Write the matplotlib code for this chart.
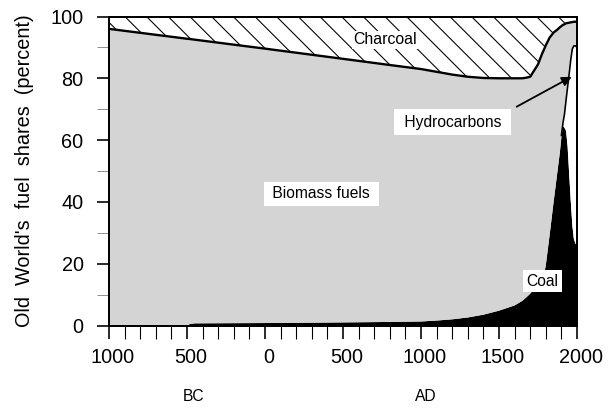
import numpy as np
import matplotlib
matplotlib.use("Agg")
import matplotlib.pyplot as plt
from matplotlib.transforms import ScaledTranslation, blended_transform_factory

plt.rcParams['font.family'] = ['Liberation Sans', 'DejaVu Sans']
plt.rcParams['hatch.color'] = 'black'
plt.rcParams['hatch.linewidth'] = 0.6

# ---- data (percent shares of Old World's fuel supply) ----
years = [-1000, -500, -480, -450, 0, 500, 800, 1000, 1100, 1200, 1300, 1400, 1500, 1600,
         1650, 1675, 1700, 1725, 1750, 1775, 1790, 1800, 1825, 1850, 1875, 1890, 1900,
         1910, 1920, 1930, 1940, 1950, 1960, 1970, 1980, 1990, 2000]
coal = [0, 0, 0.5, 0.7, 0.8, 1.0, 1.15, 1.3, 1.6, 2.0, 2.6, 3.5, 4.8, 6.5,
        8.0, 9.1, 10.3, 11.8, 13.3, 15.0, 16.8, 19.5, 29.5, 40, 50, 56, 61,
        64.5, 64, 63, 57.8, 49, 40.3, 32.5, 28, 26.5, 26]
hydrocarbons = [0, 0, 0, 0, 0, 0, 0, 0, 0, 0, 0, 0, 0, 0,
                0, 0, 0, 0, 0, 0, 0, 0, 0, 0, 0, 0, 0.5,
                1.0, 4.5, 10, 19.5, 32.5, 45.7, 57, 62.5, 64, 64]
biomass = [96, 92.8, 92.2, 91.8, 88.8, 85.3, 83.15, 81.7, 80.5, 79.2, 77.9, 76.6, 75.2, 73.5,
           72, 71.1, 70.2, 70.7, 71.2, 72.8, 72.7, 71.2, 63.7, 54.8, 45.8, 40.5, 35.4,
           31.8, 29, 24.8, 20.6, 16.5, 12.1, 8.7, 7.8, 7.8, 8.3]
charcoal = [4, 7.2, 7.3, 7.5, 10.4, 13.7, 15.7, 17, 17.9, 18.8, 19.5, 19.9, 20, 20,
            20, 19.8, 19.5, 17.5, 15.5, 12.2, 10.5, 9.3, 6.8, 5.2, 4.2, 3.5, 3.1,
            2.7, 2.5, 2.2, 2.1, 2.0, 1.9, 1.8, 1.7, 1.7, 1.7]

xticks = [-1000, -500, 0, 500, 1000, 1500, 2000]
xticklabels = ["1000", "500", "0", "500", "1000", "1500", "2000"]
yticks = [0, 20, 40, 60, 80, 100]

DPI = 130
fig = plt.figure(figsize=(608 / DPI, 409 / DPI), dpi=DPI)
ax = fig.add_axes([109 / 608, 1 - 325.5 / 409, 468 / 608, 309 / 409])

gray = '#d4d4d4'
polys = ax.stackplot(years, coal, hydrocarbons, biomass, charcoal,
                     colors=['black', 'white', gray, 'white'], linewidth=0)
polys[3].set_hatch('\\\\')
polys[3].set_edgecolor('black')
polys[3].set_linewidth(0)

yr = np.array(years)
stack = np.cumsum(np.vstack([coal, hydrocarbons, biomass]), axis=0)
# boundary biomass / charcoal
ax.plot(yr, stack[2], color='black', lw=1.3, solid_joinstyle='round')
# boundary hydrocarbons / biomass (modern era only)
m = yr >= 1900
ax.plot(yr[m], stack[1][m], color='black', lw=0.9)

ax.set_xlim(-1000, 2000)
ax.set_ylim(0, 100)

ax.set_xticks(xticks)
ax.set_xticklabels(xticklabels)
ax.set_xticks(np.arange(-1000, 2001, 100), minor=True)
ax.set_yticks(yticks)
ax.set_yticks([10, 30, 50, 70, 90], minor=True)

ax.tick_params(axis='x', which='major', direction='out', length=7.2, width=0.9,
               labelsize=11, pad=5)
ax.tick_params(axis='x', which='minor', direction='out', length=7.2, width=0.6)
ax.tick_params(axis='y', which='major', direction='out', length=6.6, width=0.9,
               labelsize=11, pad=7.5)
ax.tick_params(axis='y', which='minor', direction='out', length=6.6, width=0.5,
               color='#888888')

for lab in ax.get_xticklabels():
    lab.set_transform(lab.get_transform() + ScaledTranslation(4 / DPI, 0, fig.dpi_scale_trans))

for s in ax.spines.values():
    s.set_linewidth(1.1)
    s.set_zorder(5)

ax.set_ylabel("Old  World's  fuel  shares  (percent)", fontsize=11, labelpad=9)

tr = blended_transform_factory(ax.transData, ax.transAxes)
ax.text(-455, -0.231, "BC", transform=tr, ha='center', va='center', fontsize=8.7)
ax.text(1032, -0.231, "AD", transform=tr, ha='center', va='center', fontsize=8.7)

ax.text(772, 92.4, "Charcoal", ha='center', va='center', fontsize=8.8, zorder=6,
        bbox=dict(boxstyle='square,pad=0.08', fc='white', ec='none'))
ax.text(362, 42.6, " Biomass fuels ", ha='center', va='center', fontsize=8.7, zorder=6,
        bbox=dict(boxstyle='square,pad=0.3', fc='white', ec='none'))
ax.text(1202, 65.7, " Hydrocarbons ", ha='center', va='center', fontsize=8.7, zorder=6,
        bbox=dict(boxstyle='square,pad=0.35', fc='white', ec='none'))
ax.text(1779, 14.4, "Coal", ha='center', va='center', fontsize=8.7, zorder=6,
        bbox=dict(boxstyle='square,pad=0.25', fc='white', ec='none'))

ax.annotate('', xy=(1966, 80.5), xytext=(1613, 70.8),
            arrowprops=dict(arrowstyle='-|>', color='black', lw=1.0,
                            mutation_scale=11, shrinkA=0, shrinkB=0), zorder=7)

fig.savefig('out.png', dpi=DPI)
